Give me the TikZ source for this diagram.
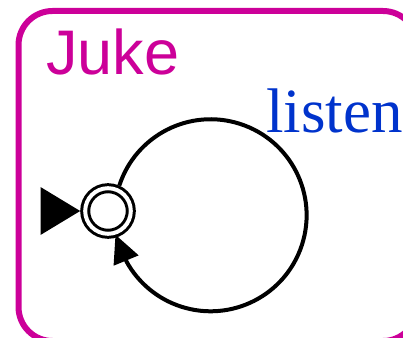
\documentclass[tikz,border=0pt]{standalone}
\usepackage{fontspec}
\usetikzlibrary{arrows.meta}
\newfontfamily\jukefont{Liberation Sans}
\newfontfamily\listenfont{Liberation Serif}
\definecolor{jukemag}{RGB}{204,0,153}
\definecolor{listenblue}{RGB}{0,51,204}
\begin{document}
\begin{tikzpicture}[x=1pt,y=1pt,
  statenode/.style={circle, draw, double, line width=3pt, double distance=4pt,
    minimum size=45.6pt, inner sep=0pt, outer sep=5pt},
  framebox/.style={draw=jukemag, line width=6pt, rounded corners=34pt,
    minimum width=398.5pt, minimum height=330pt, inner sep=0pt},
  titletext/.style={font=\jukefont\fontsize{63}{70}\selectfont, text=jukemag,
    anchor=base west, inner sep=0pt},
  labeltext/.style={font=\listenfont\fontsize{63}{70}\selectfont, text=listenblue,
    anchor=base west, inner sep=0pt},
  edge/.style={line width=4pt},
]
\useasboundingbox (0,0) rectangle (403,337);
\clip (0,0) rectangle (403,337);
\node[framebox] (juke) at (217.75,161) {};
\node[titletext] (title) at (46,262) {Juke};
\node[statenode] (q) at (108,126) {};
\coordinate (init) at (41,126);
\draw[line width=3pt, -{Triangle[length=39.5pt,width=47pt]}] (init) -- (q.west);
\draw[edge, -{Triangle[length=28pt,width=26pt]}, shorten >=-3pt]
  (q.66) arc[start angle=162, end angle=-151, radius=96] -- (q.-72);
\node[labeltext] (lbl) at (266,204) {listen};
\end{tikzpicture}
\end{document}
